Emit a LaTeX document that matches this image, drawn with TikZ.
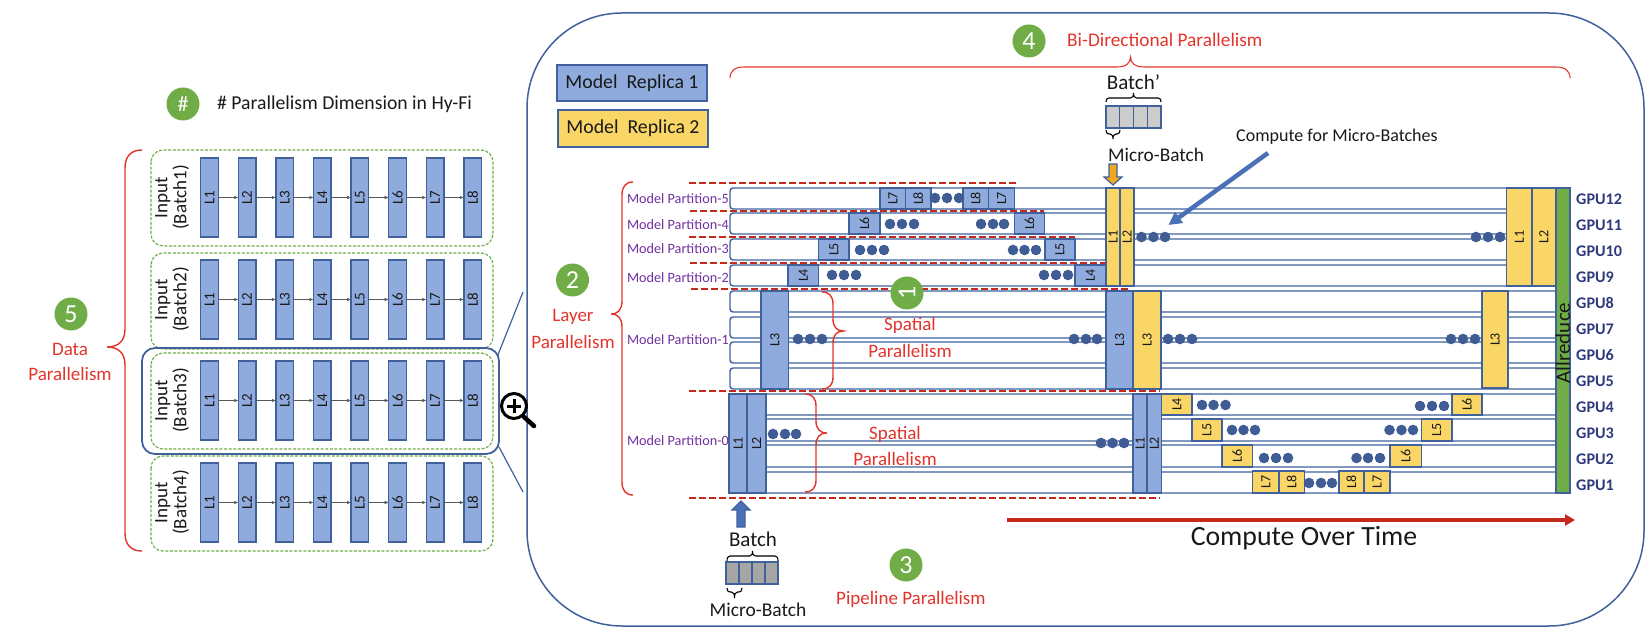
\documentclass[tikz,border=0pt]{standalone}
\usepackage{fontspec}
\usepackage{graphicx}
\setmainfont{Carlito}
\usetikzlibrary{arrows.meta}
\definecolor{lblue}{HTML}{8FAADC}
\definecolor{bord}{HTML}{41619D}
\definecolor{lyel}{HTML}{FAD666}
\definecolor{grn}{HTML}{70AD47}
\definecolor{txtred}{HTML}{E3342C}
\definecolor{dashred}{HTML}{C5281C}
\definecolor{purp}{HTML}{7030A0}
\definecolor{navy}{HTML}{2F3A7C}
\definecolor{dotc}{HTML}{3F5D94}
\definecolor{arrblue}{HTML}{4A70B8}
\definecolor{arror}{HTML}{F0A81C}
\newcommand{\fs}[1]{\fontsize{#1}{#1}\selectfont}
% block node: name, x0, y0, x1, y1, text, fill, font size
\newcommand{\blk}[8]{\node[lay,fill=#7,minimum width={(#4-#2)*1pt},minimum height={(#5-#3)*1pt}] (#1) at ({(#2+#4)/2},{(#3+#5)/2}) {\rotatebox{90}{\fs{#8}#6}};}
% three dots
\newcommand{\tridots}[4]{\fill[dotc] (#1,#4) circle (5.3) (#2,#4) circle (5.3) (#3,#4) circle (5.3);}
% vertical brace: style, x_end, x_mid, x_tip, y0, y_tip, y1, r
\newcommand{\vbr}[8]{\draw[#1] (#2,#5) .. controls ({#3+0.35*(#2-#3)},#5) and (#3,{#5+0.35*#8}) .. (#3,{#5+#8}) -- (#3,{#6-#8}) .. controls (#3,{#6-0.35*#8}) and ({#3+0.35*(#4-#3)},#6) .. (#4,#6) .. controls ({#3+0.35*(#4-#3)},#6) and (#3,{#6+0.35*#8}) .. (#3,{#6+#8}) -- (#3,{#7-#8}) .. controls (#3,{#7-0.35*#8}) and ({#3+0.35*(#2-#3)},#7) .. (#2,#7);}
% horizontal brace: style, y_end, y_mid, y_tip, x0, x_tip, x1, r
\newcommand{\hbr}[8]{\draw[#1] (#5,#2) .. controls (#5,{#3+0.35*(#2-#3)}) and ({#5+0.35*#8},#3) .. ({#5+#8},#3) -- ({#6-#8},#3) .. controls ({#6-0.35*#8},#3) and (#6,{#3+0.35*(#4-#3)}) .. (#6,#4) .. controls (#6,{#3+0.35*(#4-#3)}) and ({#6+0.35*#8},#3) .. ({#6+#8},#3) -- ({#7-#8},#3) .. controls ({#7-0.35*#8},#3) and (#7,{#3+0.35*(#2-#3)}) .. (#7,#2);}
\tikzset{
  lay/.style={draw=bord,line width=1.3pt,inner sep=0pt,outer sep=0pt,text=black!90},
  row/.style={draw=bord,line width=1.4pt,fill=white,rounded corners=3pt},
  num/.style={circle,fill=grn,text=white,minimum size=33pt,inner sep=0pt,font=\fs{26}},
  redt/.style={text=txtred,font=\fs{19},inner sep=0pt},
  bktxt/.style={text=black!90,inner sep=0pt},
  part/.style={text=purp,font=\fs{14.2},inner sep=0pt},
  gpu/.style={text=navy,font=\fs{16.2}\bfseries,inner sep=0pt,anchor=west},
  dashr/.style={draw=dashred,line width=1.7pt,dash pattern=on 7pt off 3pt},
  kbr/.style={draw=black,line width=1.1pt},
  conn/.style={draw=black!65,line width=0.6pt,-{Latex[length=4pt,width=3.5pt]}},
  gbox/.style={draw=grn,line width=1.2pt,dash pattern=on 3pt off 1.6pt,rounded corners=12pt},
  cell/.style={draw=bord,line width=1.2pt,inner sep=0pt,outer sep=0pt},
}
\begin{document}
\begin{tikzpicture}[x=1pt,y=-1pt]
\useasboundingbox (0,0) rectangle (1651,636);
% ---------- left panel
\node[num] (nh) at (183,104) {\fs{22}\#};
\node[bktxt,anchor=west,font=\fs{19.7}] (ttl) at (217,104) {\# Parallelism Dimension in Hy-Fi};
\vbr{draw=txtred,line width=1.4pt}{142}{125}{107}{150}{347}{551}{18}
\node[num] (n5) at (71,314) {5};
\node[redt] (d5a) at (70,349) {Data};
\node[redt] (d5b) at (70,374) {Parallelism};
\foreach \b/\yt/\yb/\ly in {1/150/246/158,2/253/349/260,3/353/449/361,4/456/551/463}{
  \draw[gbox] (151,\yt) rectangle (493,\yb);
  \node[bktxt,rotate=90,font=\fs{19},align=center] (inp\b) at (172,{\ly+39.5}) {Input\\(Batch\b)};
  \foreach \i in {1,...,8}{
    \pgfmathsetmacro{\xa}{200.7+(\i-1)*37.6}
    \pgfmathsetmacro{\xb}{\xa+17.6}
    \pgfmathsetmacro{\yc}{\ly+79}
    \blk{b\b-\i}{\xa}{\ly}{\xb}{\yc}{L\i}{lblue}{15}
  }
  \foreach \i [count=\j from 2] in {1,...,7}{
    \draw[conn] (b\b-\i.east) -- (b\b-\j.west);
  }
}
\draw[draw=bord,line width=1.8pt,rounded corners=13pt] (142,348) rectangle (499,454);
\draw[draw=bord,line width=1.2pt] (497.5,356) -- (523,292);
\draw[draw=bord,line width=1.2pt] (499,447) -- (523,492);
% ---------- big frame
\draw[draw=bord,line width=1.5pt,rounded corners=95pt] (527,13) rectangle (1644,626);
% magnifier (over frame)
\draw[black,line width=4.5pt,line cap=round] (524,417) -- (534,426);
\draw[black,line width=3pt,fill=white] (514,406) circle (12.5);
\draw[black,line width=3pt] (507,406) -- (521,406) (514,399) -- (514,413);
% legend
\node[lay,fill=lblue,minimum width=150pt,minimum height=36pt,font=\fs{19.8}] (leg1) at (632,83) {Model\ \ Replica 1};
\node[lay,fill=lyel,minimum width=150pt,minimum height=37pt,font=\fs{19.8}] (leg2) at (633,128.5) {Model\ \ Replica 2};
% top
\node[num] (n4) at (1029,41) {4};
\node[redt,anchor=west,font=\fs{19.3}] (t4) at (1067,40) {Bi-Directional Parallelism};
\hbr{draw=txtred,line width=1.1pt}{78}{67}{57}{730}{1130.5}{1570}{14}
% batch'
\node[bktxt,font=\fs{21}] (bp) at (1133.5,82) {Batch’};
\hbr{kbr}{102}{98}{93}{1106}{1133.5}{1161}{3}
\foreach \i [evaluate=\i as \xa using 1106+(\i-1)*13.75] in {1,...,4}{
  \node[cell,fill=black!20,minimum width=13.75pt,minimum height=22pt] (bpc\i) at ({\xa+6.875},117) {};
}
\hbr{kbr}{130}{134}{139}{1106}{1113}{1120}{3}
\node[bktxt,anchor=west,font=\fs{19.3}] (mb2) at (1108,155) {Micro-Batch};
\node[bktxt,anchor=west,font=\fs{18}] (cmb) at (1236,137) {Compute for Micro-Batches};
% ---------- rows
\foreach \a/\b in {188/209,213/234,239/260,265/286,291/312,317/338,342/363,368/389,394/415,419/441,445/467,472/493}{
  \draw[row] (730,\a) rectangle (1562,\b);
}
% dashed separators
\coordinate (ds5a) at (689,183); \coordinate (ds5b) at (1016.5,183);
\coordinate (ds4a) at (690,211); \coordinate (ds4b) at (1044,211);
\coordinate (ds3a) at (689,237); \coordinate (ds3b) at (1075,237);
\coordinate (ds2a) at (690,263); \coordinate (ds2b) at (1105,263);
\coordinate (ds1a) at (691,289); \coordinate (ds1b) at (1131,289);
\coordinate (ds0a) at (689,391); \coordinate (ds0b) at (1160,391);
\coordinate (dsza) at (689,498); \coordinate (dszb) at (1160,498);
\foreach \k in {5,4,3,2,1,0,z}{ \draw[dashr] (ds\k a) -- (ds\k b); }
% partition labels
\foreach \n/\y in {5/199,4/225,3/249,2/278,1/340,0/441}{
  \node[part,anchor=east] (mp\n) at (729,\y) {Model Partition-\n};
}
% blocks: top replica 1 / upper partitions
\blk{u7a}{880}{188}{905.5}{209}{L7}{lblue}{14}
\blk{u8a}{905.5}{188}{931}{209}{L8}{lblue}{14}
\blk{u8b}{963}{188}{988.5}{209}{L8}{lblue}{14}
\blk{u7b}{988.5}{188}{1014.5}{209}{L7}{lblue}{14}
\blk{u6a}{849}{213}{880}{234}{L6}{lblue}{14}
\blk{u6b}{1014.5}{213}{1044.5}{234}{L6}{lblue}{14}
\blk{u5a}{818.6}{239}{849}{260}{L5}{lblue}{14}
\blk{u5b}{1045}{239}{1075}{260}{L5}{lblue}{14}
\blk{u4a}{788}{265}{818.6}{286}{L4}{lblue}{14}
\blk{u4b}{1075}{265}{1105.6}{286}{L4}{lblue}{14}
\tridots{935}{947}{959}{198}
\tridots{890}{902}{914}{224}
\tridots{981}{993}{1004}{224}
\tridots{860}{872}{884}{250}
\tridots{1013}{1024.5}{1036}{250}
\tridots{832}{844}{856}{275}
\tridots{1044}{1056}{1068}{275}
% yellow upper
\blk{yu1}{1106}{188}{1120}{286}{L1}{lyel}{14}
\blk{yu2}{1120}{188}{1134}{286}{L2}{lyel}{14}
\tridots{1141.5}{1153.5}{1165}{237}
\tridots{1476}{1488}{1500}{237}
\blk{yv1}{1506.5}{188}{1532}{286}{L1}{lyel}{14}
\blk{yv2}{1532}{188}{1555.5}{286}{L2}{lyel}{14}
% L3 band
\blk{m3a}{761}{291}{788.6}{389}{L3}{lblue}{14}
\blk{m3b}{1106}{291}{1133}{389}{L3}{lblue}{14}
\blk{m3c}{1133}{291}{1161}{389}{L3}{lyel}{14}
\blk{m3d}{1482}{291}{1508}{388}{L3}{lyel}{14}
\tridots{798}{810}{822}{339}
\tridots{1074}{1086}{1097}{339}
\tridots{1168}{1180}{1192}{339}
\tridots{1451}{1463}{1475}{339}
% L1 L2 lower
\blk{p1}{729}{394}{747}{493}{L1}{lblue}{14}
\blk{p2}{747}{394}{766}{493}{L2}{lblue}{14}
\tridots{773}{785}{796}{434}
\tridots{1101}{1112.5}{1124}{443}
\blk{q1}{1133}{394}{1147}{493}{L1}{lblue}{14}
\blk{q2}{1147}{394}{1161.5}{493}{L2}{lblue}{14}
% yellow lower staircase
\blk{y4a}{1161.5}{394}{1192}{415}{L4}{lyel}{14}
\blk{y6d}{1452}{394}{1482}{415}{L6}{lyel}{14}
\blk{y5a}{1192}{419}{1222}{441}{L5}{lyel}{14}
\blk{y5b}{1421.5}{419}{1452}{441}{L5}{lyel}{14}
\blk{y6a}{1222}{445}{1252.5}{467}{L6}{lyel}{14}
\blk{y6b}{1390}{445}{1421.5}{467}{L6}{lyel}{14}
\blk{y7a}{1252.5}{471}{1279}{493}{L7}{lyel}{14}
\blk{y8a}{1279}{471}{1304.5}{493}{L8}{lyel}{14}
\blk{y8b}{1339}{471}{1364}{493}{L8}{lyel}{14}
\blk{y7b}{1364}{471}{1390}{493}{L7}{lyel}{14}
\tridots{1202}{1213.5}{1225.5}{405}
\tridots{1420}{1432}{1444}{406}
\tridots{1232}{1243.5}{1255}{430}
\tridots{1389.5}{1401.5}{1413}{430}
\tridots{1264}{1276}{1288}{458}
\tridots{1356.5}{1368}{1380}{458}
\tridots{1309}{1321}{1332}{483}
% allreduce
\node[lay,fill=grn,minimum width=14pt,minimum height=305pt] (allr) at (1563,340.5) {};
\node[bktxt,rotate=90,font=\fs{21}] (allrt) at (1563,343) {Allreduce};
% GPU labels
\foreach \n/\y in {12/199,11/225,10/251,9/277,8/303,7/329,6/355,5/381,4/407,3/433,2/459,1/485}{
  \node[gpu] (gpu\n) at (1576,\y) {GPU\n};
}
% orange down arrow
\draw[draw=bord,line width=1.2pt,fill=arror,line join=miter] (1109,164) -- (1117,164) -- (1117,177) -- (1122,177) -- (1113,185) -- (1104,177) -- (1109,177) -- cycle;
% compute arrow
\coordinate (cmpa) at (1268,153); \coordinate (cmpb) at (1168.5,225);
\draw[draw=arrblue,line width=4.5pt,-{Triangle[length=13pt,width=13pt]}] (cmpa) -- (cmpb);
% layer brace and labels
\vbr{draw=txtred,line width=1.4pt}{633}{622}{611}{182}{314}{495}{13}
\node[num] (n2) at (572.5,280) {2};
\node[redt] (t2a) at (573,317) {Layer};
\node[redt] (t2b) at (573,342) {Parallelism};
% spatial braces
\vbr{draw=txtred,line width=1.4pt}{822}{833}{843.5}{292}{331}{389}{12}
\vbr{draw=txtred,line width=1.4pt}{805}{816}{827}{394}{433}{492}{12}
\node[redt] (s1a) at (910,325) {Spatial};
\node[redt] (s1b) at (910,351) {Parallelism};
\node[redt] (s2a) at (895,434) {Spatial};
\node[redt] (s2b) at (895,459) {Parallelism};
\node[num] (n1) at (907,293) {\rotatebox{90}{1}};
% bottom
\draw[draw=bord,line width=1.2pt,fill=arrblue,line join=miter] (737,527) -- (745,527) -- (745,510) -- (750,510) -- (741,501) -- (732,510) -- (737,510) -- cycle;
\node[bktxt,font=\fs{21}] (bt) at (753,539) {Batch};
\hbr{kbr}{561}{556}{551}{727}{752.5}{778}{3}
\foreach \i [evaluate=\i as \xa using 726+(\i-1)*13] in {1,...,4}{
  \node[cell,fill=black!35,minimum width=13pt,minimum height=22pt] (bc\i) at ({\xa+6.5},573) {};
}
\hbr{kbr}{588}{592}{598}{727}{734.5}{742}{3}
\node[bktxt,font=\fs{19.5}] (mb1) at (758,610) {Micro-Batch};
\node[num] (n3) at (906,565) {3};
\node[redt,anchor=west] (t3) at (836,599) {Pipeline Parallelism};
% time arrow
\coordinate (tma) at (1007,520); \coordinate (tmb) at (1575,520);
\draw[draw=dashred,line width=3.2pt,-{Triangle[length=10pt,width=11pt]}] (tma) -- (tmb);
\node[bktxt,font=\fs{27.8}] (cot) at (1304,538) {Compute Over Time};
\end{tikzpicture}
\end{document}
